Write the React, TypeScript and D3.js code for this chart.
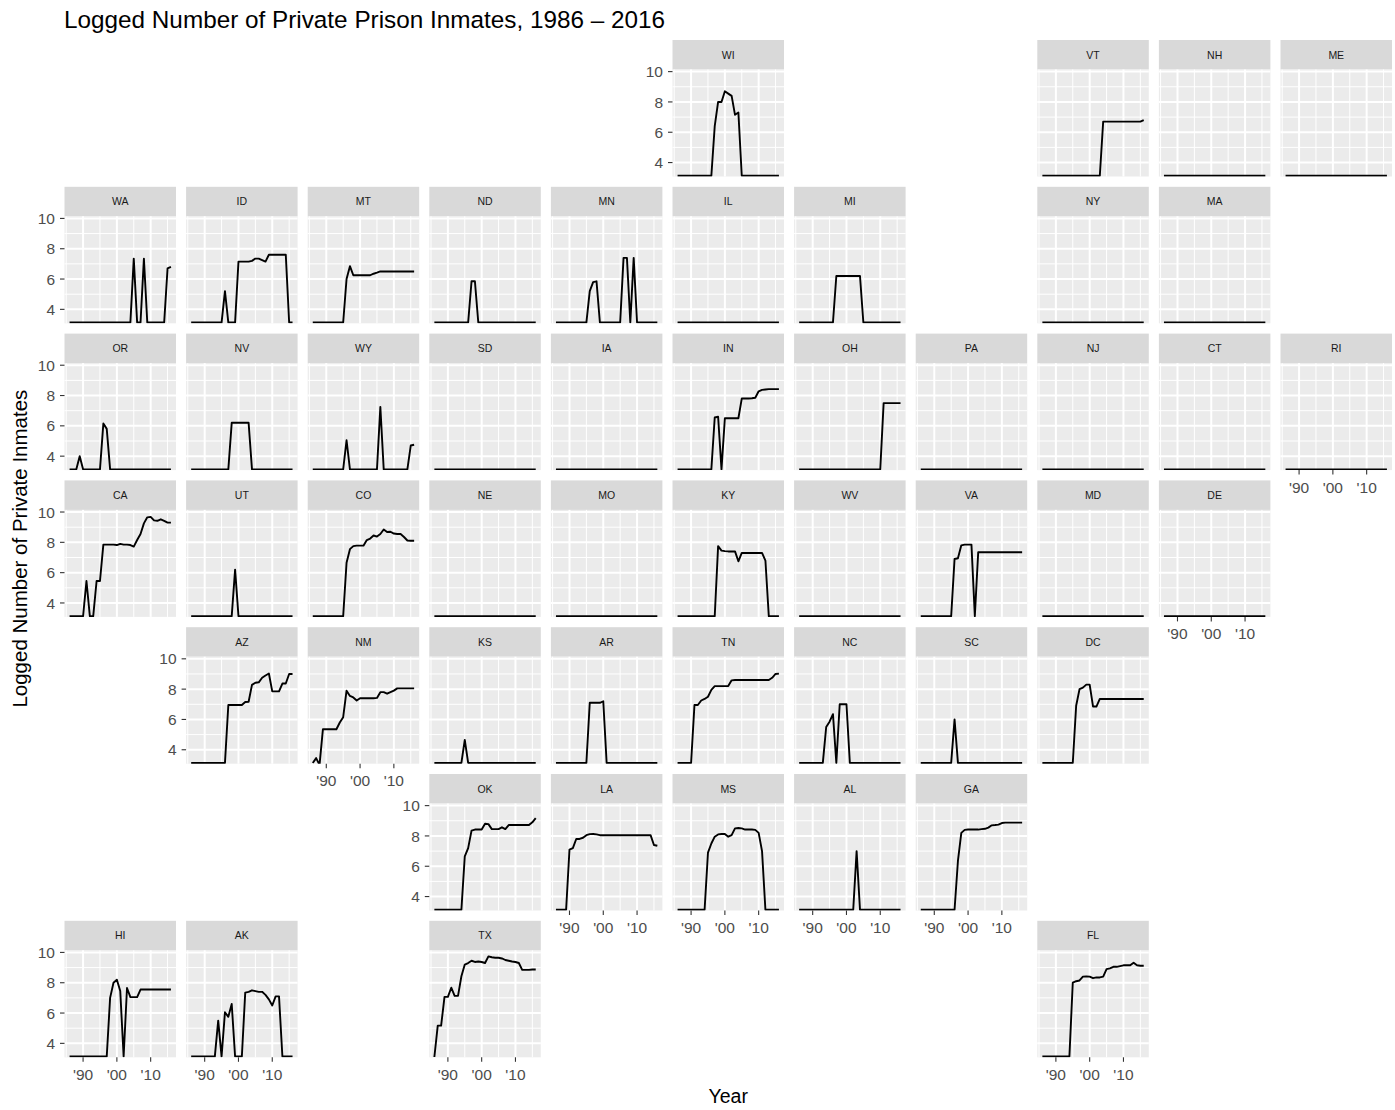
import React from "react";
import * as d3 from "d3";

// Level drawn for years with no privately held inmates
const Z = 3.13;

const years = [
  1986, 1987, 1988, 1989, 1990, 1991, 1992, 1993, 1994, 1995, 1996,
  1997, 1998, 1999, 2000, 2001, 2002, 2003, 2004, 2005, 2006, 2007,
  2008, 2009, 2010, 2011, 2012, 2013, 2014, 2015, 2016,
];

const NONE = [Z, Z, Z, Z, Z, Z, Z, Z, Z, Z, Z, Z, Z, Z, Z, Z, Z, Z, Z, Z, Z, Z, Z, Z, Z, Z, Z, Z, Z, Z, Z];

const WI = [Z, Z, Z, Z, Z, Z, Z, Z, Z, Z, Z, 6.4, 8.0, 8.0, 8.7, 8.55, 8.4, 7.15, 7.3, Z, Z, Z, Z, Z, Z, Z, Z, Z, Z, Z, Z];
const VT = [Z, Z, Z, Z, Z, Z, Z, Z, Z, Z, Z, Z, Z, Z, Z, Z, Z, Z, 6.7, 6.7, 6.7, 6.7, 6.7, 6.7, 6.7, 6.7, 6.7, 6.7, 6.7, 6.7, 6.8];
const WA = [Z, Z, Z, Z, Z, Z, Z, Z, Z, Z, Z, Z, Z, Z, Z, Z, Z, Z, Z, 7.35, Z, Z, 7.35, Z, Z, Z, Z, Z, Z, 6.7, 6.8];
const ID = [Z, Z, Z, Z, Z, Z, Z, Z, Z, Z, 5.2, Z, Z, Z, 7.15, 7.15, 7.15, 7.15, 7.2, 7.35, 7.35, 7.25, 7.15, 7.6, 7.6, 7.6, 7.6, 7.6, 7.6, Z, Z];
const MT = [Z, Z, Z, Z, Z, Z, Z, Z, Z, Z, 6.0, 6.85, 6.25, 6.25, 6.25, 6.25, 6.25, 6.25, 6.35, 6.42, 6.5, 6.5, 6.5, 6.5, 6.5, 6.5, 6.5, 6.5, 6.5, 6.5, 6.5];
const ND = [Z, Z, Z, Z, Z, Z, Z, Z, Z, Z, Z, 5.85, 5.85, Z, Z, Z, Z, Z, Z, Z, Z, Z, Z, Z, Z, Z, Z, Z, Z, Z, Z];
const MN = [Z, Z, Z, Z, Z, Z, Z, Z, Z, Z, 5.2, 5.8, 5.85, Z, Z, Z, Z, Z, Z, Z, 7.4, 7.4, Z, 7.4, Z, Z, Z, Z, Z, Z, Z];
const MI = [Z, Z, Z, Z, Z, Z, Z, Z, Z, Z, Z, 6.2, 6.2, 6.2, 6.2, 6.2, 6.2, 6.2, 6.2, Z, Z, Z, Z, Z, Z, Z, Z, Z, Z, Z, Z];
const OR = [Z, Z, Z, 4.0, Z, Z, Z, Z, Z, Z, 6.15, 5.8, Z, Z, Z, Z, Z, Z, Z, Z, Z, Z, Z, Z, Z, Z, Z, Z, Z, Z, Z];
const NV = [Z, Z, Z, Z, Z, Z, Z, Z, Z, Z, Z, Z, 6.2, 6.2, 6.2, 6.2, 6.2, 6.2, Z, Z, Z, Z, Z, Z, Z, Z, Z, Z, Z, Z, Z];
const WY = [Z, Z, Z, Z, Z, Z, Z, Z, Z, Z, 5.05, Z, Z, Z, Z, Z, Z, Z, Z, Z, 7.25, Z, Z, Z, Z, Z, Z, Z, Z, 4.7, 4.75];
const IN = [Z, Z, Z, Z, Z, Z, Z, Z, Z, Z, Z, 6.55, 6.6, Z, 6.5, 6.5, 6.5, 6.5, 6.5, 7.8, 7.8, 7.8, 7.82, 7.85, 8.28, 8.37, 8.4, 8.42, 8.42, 8.42, 8.42];
const OH = [Z, Z, Z, Z, Z, Z, Z, Z, Z, Z, Z, Z, Z, Z, Z, Z, Z, Z, Z, Z, Z, Z, Z, Z, Z, 7.5, 7.5, 7.5, 7.5, 7.5, 7.5];
const CA = [Z, Z, Z, Z, Z, 5.45, Z, Z, 5.45, 5.45, 7.85, 7.85, 7.85, 7.85, 7.82, 7.9, 7.85, 7.85, 7.82, 7.72, 8.15, 8.55, 9.25, 9.65, 9.68, 9.45, 9.42, 9.52, 9.42, 9.3, 9.3];
const UT = [Z, Z, Z, Z, Z, Z, Z, Z, Z, Z, Z, Z, Z, 6.2, Z, Z, Z, Z, Z, Z, Z, Z, Z, Z, Z, Z, Z, Z, Z, Z, Z];
const CO = [Z, Z, Z, Z, Z, Z, Z, Z, Z, Z, 6.65, 7.55, 7.75, 7.78, 7.78, 7.78, 8.15, 8.25, 8.45, 8.38, 8.55, 8.85, 8.68, 8.7, 8.58, 8.55, 8.55, 8.35, 8.12, 8.1, 8.1];
const KY = [Z, Z, Z, Z, Z, Z, Z, Z, Z, Z, Z, Z, 7.75, 7.45, 7.42, 7.4, 7.4, 7.4, 6.75, 7.3, 7.3, 7.3, 7.3, 7.3, 7.3, 7.3, 6.8, Z, Z, Z, Z];
const VA = [Z, Z, Z, Z, Z, Z, Z, Z, Z, Z, 6.9, 6.95, 7.8, 7.85, 7.85, 7.85, Z, 7.35, 7.35, 7.35, 7.35, 7.35, 7.35, 7.35, 7.35, 7.35, 7.35, 7.35, 7.35, 7.35, 7.35];
const AZ = [Z, Z, Z, Z, Z, Z, Z, Z, Z, Z, Z, 6.95, 6.95, 6.95, 6.95, 6.95, 7.15, 7.17, 8.28, 8.42, 8.45, 8.75, 8.9, 9.03, 7.85, 7.85, 7.85, 8.37, 8.37, 9.0, 9.0];
const NM = [Z, 3.45, 3.0, 5.35, 5.35, 5.35, 5.35, 5.35, 5.8, 6.15, 7.9, 7.55, 7.45, 7.25, 7.4, 7.4, 7.4, 7.4, 7.4, 7.42, 7.8, 7.8, 7.7, 7.8, 7.9, 8.05, 8.05, 8.05, 8.05, 8.05, 8.05];
const KS = [Z, Z, Z, Z, Z, Z, Z, Z, Z, 4.65, Z, Z, Z, Z, Z, Z, Z, Z, Z, Z, Z, Z, Z, Z, Z, Z, Z, Z, Z, Z, Z];
const AR = [Z, Z, Z, Z, Z, Z, Z, Z, Z, Z, 7.1, 7.1, 7.1, 7.1, 7.2, Z, Z, Z, Z, Z, Z, Z, Z, Z, Z, Z, Z, Z, Z, Z, Z];
const TN = [Z, Z, Z, Z, Z, 6.95, 6.95, 7.25, 7.35, 7.5, 7.95, 8.2, 8.2, 8.2, 8.2, 8.2, 8.58, 8.6, 8.6, 8.6, 8.6, 8.6, 8.6, 8.6, 8.6, 8.6, 8.6, 8.6, 8.75, 9.0, 9.02];
const NC = [Z, Z, Z, Z, Z, Z, Z, Z, 5.5, 5.85, 6.35, Z, 7.0, 7.0, 7.0, Z, Z, Z, Z, Z, Z, Z, Z, Z, Z, Z, Z, Z, Z, Z, Z];
const SC = [Z, Z, Z, Z, Z, Z, Z, Z, Z, Z, 6.0, Z, Z, Z, Z, Z, Z, Z, Z, Z, Z, Z, Z, Z, Z, Z, Z, Z, Z, Z, Z];
const DC = [Z, Z, Z, Z, Z, Z, Z, Z, Z, Z, 6.9, 8.0, 8.1, 8.3, 8.3, 6.85, 6.85, 7.35, 7.35, 7.35, 7.35, 7.35, 7.35, 7.35, 7.35, 7.35, 7.35, 7.35, 7.35, 7.35, 7.35];
const OK = [Z, Z, Z, Z, Z, Z, Z, Z, Z, 6.65, 7.2, 8.35, 8.42, 8.42, 8.42, 8.8, 8.78, 8.45, 8.45, 8.45, 8.57, 8.45, 8.72, 8.72, 8.72, 8.72, 8.72, 8.72, 8.72, 8.9, 9.17];
const LA = [Z, Z, Z, Z, 7.1, 7.2, 7.8, 7.8, 7.88, 8.05, 8.12, 8.13, 8.1, 8.05, 8.05, 8.05, 8.05, 8.05, 8.05, 8.05, 8.05, 8.05, 8.05, 8.05, 8.05, 8.05, 8.05, 8.05, 8.05, 7.4, 7.35];
const MS = [Z, Z, Z, Z, Z, Z, Z, Z, Z, 6.9, 7.5, 7.95, 8.1, 8.13, 8.13, 7.95, 8.05, 8.5, 8.52, 8.5, 8.42, 8.42, 8.42, 8.4, 8.2, 7.0, Z, Z, Z, Z, Z];
const AL = [Z, Z, Z, Z, Z, Z, Z, Z, Z, Z, Z, Z, Z, Z, Z, Z, Z, 7.0, Z, Z, Z, Z, Z, Z, Z, Z, Z, Z, Z, Z, Z];
const GA = [Z, Z, Z, Z, Z, Z, Z, Z, Z, Z, Z, 6.35, 8.2, 8.4, 8.42, 8.42, 8.42, 8.42, 8.45, 8.47, 8.55, 8.7, 8.72, 8.75, 8.85, 8.88, 8.88, 8.88, 8.88, 8.88, 8.88];
const HI = [Z, Z, Z, Z, Z, Z, Z, Z, Z, Z, Z, Z, 7.0, 8.0, 8.2, 7.45, Z, 7.65, 7.05, 7.05, 7.05, 7.55, 7.55, 7.55, 7.55, 7.55, 7.55, 7.55, 7.55, 7.55, 7.55];
const AK = [Z, Z, Z, Z, Z, Z, Z, Z, 5.5, Z, 6.05, 5.75, 6.6, Z, Z, Z, 7.35, 7.4, 7.5, 7.45, 7.4, 7.4, 7.2, 6.9, 6.5, 7.1, 7.1, Z, Z, Z, Z];
const TX = [3.1, 5.17, 5.17, 7.07, 7.07, 7.67, 7.13, 7.13, 8.43, 9.2, 9.3, 9.45, 9.37, 9.4, 9.37, 9.3, 9.74, 9.68, 9.65, 9.65, 9.6, 9.5, 9.45, 9.4, 9.37, 9.3, 8.85, 8.85, 8.85, 8.87, 8.87];
const FL = [Z, Z, Z, Z, Z, Z, Z, Z, Z, 8.0, 8.1, 8.15, 8.4, 8.42, 8.4, 8.3, 8.35, 8.35, 8.4, 8.9, 8.95, 9.05, 9.05, 9.1, 9.15, 9.15, 9.15, 9.32, 9.15, 9.12, 9.12];

// Tile-grid placement of each state
const stateCodes = [
  "WI", "VT", "NH", "ME",
  "WA", "ID", "MT", "ND", "MN", "IL", "MI", "NY", "MA",
  "OR", "NV", "WY", "SD", "IA", "IN", "OH", "PA", "NJ", "CT", "RI",
  "CA", "UT", "CO", "NE", "MO", "KY", "WV", "VA", "MD", "DE",
  "AZ", "NM", "KS", "AR", "TN", "NC", "SC", "DC",
  "OK", "LA", "MS", "AL", "GA",
  "HI", "AK", "TX", "FL",
];
const gridRow = [
  0, 0, 0, 0,
  1, 1, 1, 1, 1, 1, 1, 1, 1,
  2, 2, 2, 2, 2, 2, 2, 2, 2, 2, 2,
  3, 3, 3, 3, 3, 3, 3, 3, 3, 3,
  4, 4, 4, 4, 4, 4, 4, 4,
  5, 5, 5, 5, 5,
  6, 6, 6, 6,
];
const gridCol = [
  5, 8, 9, 10,
  0, 1, 2, 3, 4, 5, 6, 8, 9,
  0, 1, 2, 3, 4, 5, 6, 7, 8, 9, 10,
  0, 1, 2, 3, 4, 5, 6, 7, 8, 9,
  1, 2, 3, 4, 5, 6, 7, 8,
  3, 4, 5, 6, 7,
  0, 1, 3, 8,
];

const yTicks = [4, 6, 8, 10];
const yMinor = [5, 7, 9];
const xTicks = [1990, 2000, 2010];
const xTickLabels = ["'90", "'00", "'10"];
const xMinor = [1985, 1995, 2005, 2015];

const seriesByState: Record<string, number[]> = {
  WI, VT, WA, ID, MT, ND, MN, MI, OR, NV, WY, IN, OH, CA, UT, CO, KY, VA,
  AZ, NM, KS, AR, TN, NC, SC, DC, OK, LA, MS, AL, GA, HI, AK, TX, FL,
};

const W = 1395;
const H = 1110;
const panelLeft0 = 64.5;
const colStep = 121.6;
const panelW = 111.5;
const stripTop0 = 40;
const rowStep = 146.8;
const stripH = 29.5;
const panelH = 107;
const FONT = "'Liberation Sans', Arial, Helvetica, sans-serif";

export default function App() {
  const x = d3.scaleLinear().domain([1984.5, 2017.5]).range([0, panelW]);
  const y = d3.scaleLinear().domain([3.08, 10.14]).range([panelH, 0]);
  const line = d3
    .line<number>()
    .x((_, i) => x(years[i]))
    .y((d) => y(d));

  const panels = stateCodes.map((code, i) => {
    const r = gridRow[i];
    const c = gridCol[i];
    const leftmost = d3.min(gridCol.filter((_, j) => gridRow[j] === r)) === c;
    const bottommost = d3.max(gridRow.filter((_, j) => gridCol[j] === c)) === r;
    return { code, r, c, leftmost, bottommost };
  });

  const plotLeft = panelLeft0;
  const plotRight = panelLeft0 + 10 * colStep + panelW;
  const plotTop = stripTop0;
  const plotBottom = stripTop0 + 6 * rowStep + stripH + panelH;

  return (
    <div style={{ position: "absolute", left: 0, top: 0 }}>
      <svg width={W} height={H} style={{ display: "block", background: "#fff" }} fontFamily={FONT}>
        <defs>
          <clipPath id="panel-clip">
            <rect x={0} y={0} width={panelW} height={panelH} />
          </clipPath>
        </defs>
        <rect x={0} y={0} width={W} height={H} fill="#fff" />
        <text x={64} y={28} fontSize={24.3} fill="#000">
          Logged Number of Private Prison Inmates, 1986 – 2016
        </text>

        {panels.map((p) => {
          const left = panelLeft0 + p.c * colStep;
          const stripTop = stripTop0 + p.r * rowStep;
          const top = stripTop + stripH;
          const values = seriesByState[p.code] || NONE;
          return (
            <g key={p.code}>
              <rect x={left} y={stripTop} width={panelW} height={stripH} fill="#D9D9D9" />
              <text
                x={left + panelW / 2}
                y={stripTop + stripH / 2}
                dy="0.36em"
                textAnchor="middle"
                fontSize={10.5}
                fill="#1A1A1A"
              >
                {p.code}
              </text>
              <g transform={`translate(${left},${top})`}>
                <rect x={0} y={0} width={panelW} height={panelH} fill="#EBEBEB" />
                {yMinor.map((v) => (
                  <line key={`ym${v}`} x1={0} x2={panelW} y1={y(v)} y2={y(v)} stroke="#fff" strokeWidth={1} />
                ))}
                {xMinor.map((v) => (
                  <line key={`xm${v}`} x1={x(v)} x2={x(v)} y1={0} y2={panelH} stroke="#fff" strokeWidth={1} />
                ))}
                {yTicks.map((v) => (
                  <line key={`yM${v}`} x1={0} x2={panelW} y1={y(v)} y2={y(v)} stroke="#fff" strokeWidth={2} />
                ))}
                {xTicks.map((v) => (
                  <line key={`xM${v}`} x1={x(v)} x2={x(v)} y1={0} y2={panelH} stroke="#fff" strokeWidth={2} />
                ))}
                <path
                  d={line(values) || ""}
                  fill="none"
                  stroke="#000"
                  strokeWidth={1.9}
                  strokeLinejoin="round"
                  clipPath="url(#panel-clip)"
                />
                {p.leftmost &&
                  yTicks.map((v) => (
                    <g key={`yt${v}`}>
                      <line x1={-4.5} x2={0} y1={y(v)} y2={y(v)} stroke="#333" strokeWidth={1.1} />
                      <text x={-9.5} y={y(v)} dy="0.36em" textAnchor="end" fontSize={15.5} fill="#4D4D4D">
                        {v}
                      </text>
                    </g>
                  ))}
                {p.bottommost &&
                  xTicks.map((v, k) => (
                    <g key={`xt${v}`}>
                      <line x1={x(v)} x2={x(v)} y1={panelH} y2={panelH + 4.5} stroke="#333" strokeWidth={1.1} />
                      <text x={x(v)} y={panelH + 22.5} textAnchor="middle" fontSize={15.5} fill="#4D4D4D">
                        {xTickLabels[k]}
                      </text>
                    </g>
                  ))}
              </g>
            </g>
          );
        })}

        <text x={(plotLeft + plotRight) / 2} y={1103} textAnchor="middle" fontSize={19.5} fill="#000">
          Year
        </text>
        <text
          transform={`translate(27,${(plotTop + plotBottom) / 2}) rotate(-90)`}
          textAnchor="middle"
          fontSize={20.5}
          fill="#000"
        >
          Logged Number of Private Inmates
        </text>
      </svg>
    </div>
  );
}
